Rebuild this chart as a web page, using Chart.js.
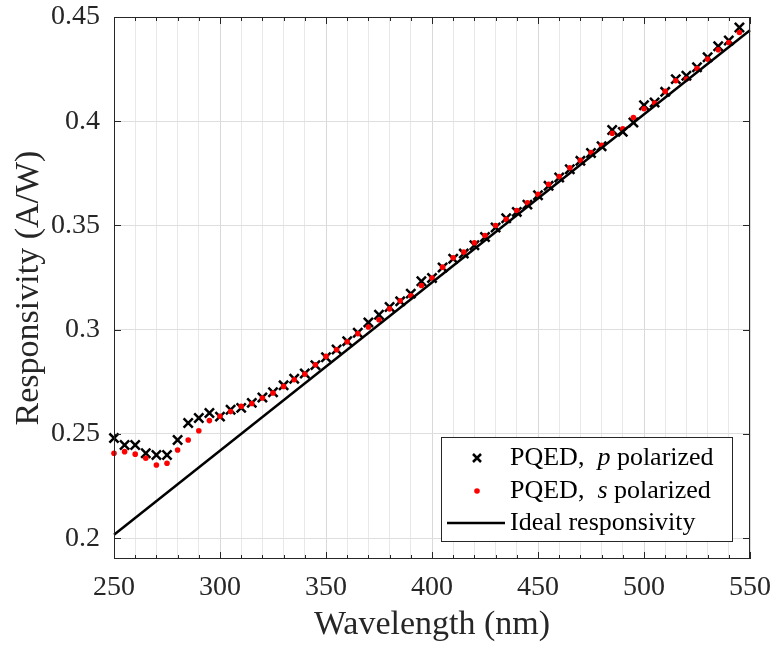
<!DOCTYPE html>
<html lang="en">
<head>
<meta charset="UTF-8">
<title>PQED responsivity</title>
<script src="https://cdn.jsdelivr.net/npm/chart.js"></script>
<style>
  html, body { margin: 0; padding: 0; background: #fff; }
  #chart { display: block; }
</style>
</head>
<body>
<canvas id="chart" width="772" height="645"></canvas>
<script>
  // values
  const wavelengths = [250, 255, 260, 265, 270, 275, 280, 285, 290, 295,
                       300, 305, 310, 315, 320, 325, 330, 335, 340, 345,
                       350, 355, 360, 365, 370, 375, 380, 385, 390, 395,
                       400, 405, 410, 415, 420, 425, 430, 435, 440, 445,
                       450, 455, 460, 465, 470, 475, 480, 485, 490, 495,
                       500, 505, 510, 515, 520, 525, 530, 535, 540, 545];
  const pPolarized = [0.2480, 0.2447, 0.2447, 0.2407, 0.2399, 0.2399, 0.2471, 0.2552, 0.2576, 0.2600,
                      0.2583, 0.2616, 0.2625, 0.2649, 0.2675, 0.2700, 0.2733, 0.2765, 0.2790, 0.2830,
                      0.2868, 0.2905, 0.2945, 0.2985, 0.3035, 0.3072, 0.3109, 0.3136, 0.3173, 0.3232,
                      0.3248, 0.3298, 0.3340, 0.3365, 0.3405, 0.3445, 0.3490, 0.3535, 0.3565, 0.3600,
                      0.3645, 0.3690, 0.3730, 0.3770, 0.3810, 0.3848, 0.3880, 0.3958, 0.3949, 0.3994,
                      0.4077, 0.4090, 0.4141, 0.4202, 0.4218, 0.4259, 0.4307, 0.4360, 0.4387, 0.4450];
  const sPolarized = [0.2407, 0.2415, 0.2403, 0.2383, 0.2351, 0.2359, 0.2423, 0.2471, 0.2515, 0.2564,
                      0.2585, 0.2607, 0.2633, 0.2646, 0.2672, 0.2696, 0.2728, 0.2760, 0.2787, 0.2832,
                      0.2872, 0.2904, 0.2942, 0.2981, 0.3013, 0.3048, 0.3100, 0.3139, 0.3163, 0.3212,
                      0.3248, 0.3300, 0.3345, 0.3372, 0.3417, 0.3452, 0.3500, 0.3529, 0.3572, 0.3609,
                      0.3649, 0.3698, 0.3735, 0.3777, 0.3812, 0.3850, 0.3885, 0.3942, 0.3964, 0.4018,
                      0.4060, 0.4087, 0.4143, 0.4194, 0.4202, 0.4253, 0.4298, 0.4343, 0.4378, 0.4426];
  const idealWavelengths = [250, 550];
  const idealResponsivity = [0.2016, 0.4436];

  const xTickLabels = [250, 300, 350, 400, 450, 500, 550];
  const xMinorTicks = [250, 260, 270, 280, 290, 300, 310, 320, 330, 340, 350,
                       360, 370, 380, 390, 400, 410, 420, 430, 440, 450,
                       460, 470, 480, 490, 500, 510, 520, 530, 540, 550];
  const yTickLabels = [0.2, 0.25, 0.3, 0.35, 0.4, 0.45];

  const serif = "'Liberation Serif', 'Times New Roman', serif";
  const axisColor = '#262626';

  const toPoints = (xs, ys) => xs.map((x, i) => ({ x: x, y: ys[i] }));

  // MATLAB style box with inward ticks
  const axesBox = {
    id: 'axesBox',
    afterDatasetsDraw(chart) {
      const { ctx, chartArea: a, scales: { x, y } } = chart;
      ctx.save();
      ctx.strokeStyle = axisColor;
      ctx.lineWidth = 1;
      ctx.strokeRect(Math.round(a.left) + 0.5, Math.round(a.top) + 0.5,
                     Math.round(a.right - a.left) - 1, Math.round(a.bottom - a.top) - 1);
      ctx.beginPath();
      xMinorTicks.forEach(v => {
        const px = Math.round(x.getPixelForValue(v)) + 0.5;
        const len = xTickLabels.includes(v) ? 7 : 4;
        ctx.moveTo(px, a.bottom); ctx.lineTo(px, a.bottom - len);
        ctx.moveTo(px, a.top); ctx.lineTo(px, a.top + len);
      });
      yTickLabels.forEach(v => {
        const py = Math.round(y.getPixelForValue(v)) + 0.5;
        ctx.moveTo(a.left, py); ctx.lineTo(a.left + 7, py);
        ctx.moveTo(a.right, py); ctx.lineTo(a.right - 7, py);
      });
      ctx.stroke();
      ctx.restore();
    }
  };

  const legendBox = {
    id: 'legendBox',
    afterDraw(chart) {
      const ctx = chart.ctx;
      const L = 441, T = 437, W = 291, H = 104;
      const textX = 510, markX = 477;
      const rows = [458, 491, 523];
      ctx.save();
      ctx.fillStyle = '#fff';
      ctx.fillRect(L, T, W, H);
      ctx.strokeStyle = axisColor;
      ctx.lineWidth = 1;
      ctx.strokeRect(L + 0.5, T + 0.5, W, H);

      // markers
      ctx.strokeStyle = '#000';
      ctx.lineWidth = 2.5;
      ctx.beginPath();
      ctx.moveTo(markX - 4, rows[0] - 4); ctx.lineTo(markX + 4, rows[0] + 4);
      ctx.moveTo(markX + 4, rows[0] - 4); ctx.lineTo(markX - 4, rows[0] + 4);
      ctx.stroke();
      ctx.fillStyle = '#ff0000';
      ctx.beginPath();
      ctx.arc(markX, rows[1], 2.8, 0, Math.PI * 2);
      ctx.fill();
      ctx.beginPath();
      ctx.moveTo(447, rows[2]); ctx.lineTo(505, rows[2]);
      ctx.stroke();

      // labels with italic polarization letters
      ctx.fillStyle = '#000';
      ctx.textBaseline = 'middle';
      ctx.textAlign = 'left';
      const parts = [
        [['PQED,  ', ''], ['p', 'italic '], [' polarized', '']],
        [['PQED,  ', ''], ['s', 'italic '], [' polarized', '']],
        [['Ideal responsivity', '']]
      ];
      parts.forEach((row, i) => {
        let cx = textX;
        row.forEach(([txt, style]) => {
          ctx.font = style + '26px ' + serif;
          ctx.fillText(txt, cx, rows[i]);
          cx += ctx.measureText(txt).width;
        });
      });
      ctx.restore();
    }
  };

  new Chart(document.getElementById('chart').getContext('2d'), {
    type: 'scatter',
    data: {
      datasets: [
        {
          label: 'Ideal responsivity',
          data: toPoints(idealWavelengths, idealResponsivity),
          showLine: true,
          borderColor: '#000',
          borderWidth: 2.5,
          pointRadius: 0,
          clip: false
        },
        {
          label: 'PQED, s polarized',
          data: toPoints(wavelengths, sPolarized),
          pointStyle: 'circle',
          pointRadius: 2.8,
          backgroundColor: '#ff0000',
          borderColor: '#ff0000',
          borderWidth: 0,
          clip: false
        },
        {
          label: 'PQED, p polarized',
          data: toPoints(wavelengths, pPolarized),
          pointStyle: 'crossRot',
          pointRadius: 6.5,
          borderColor: '#000',
          borderWidth: 2.5,
          clip: false
        }
      ]
    },
    options: {
      responsive: false,
      animation: false,
      events: [],
      layout: { padding: { top: 17, right: 22, bottom: 0, left: 0 } },
      plugins: { legend: { display: false }, tooltip: { enabled: false } },
      scales: {
        x: {
          type: 'linear',
          min: 250,
          max: 550,
          afterBuildTicks: s => { s.ticks = xMinorTicks.map(v => ({ value: v })); },
          afterFit: s => { s.height = 86; s.paddingLeft = 0; s.paddingRight = 0; },
          border: { display: false },
          grid: {
            drawTicks: false,
            color: c => (c.tick && xTickLabels.includes(c.tick.value)) ? '#d9d9d9' : '#e8e8e8',
            lineWidth: 1
          },
          ticks: {
            autoSkip: false,
            maxRotation: 0,
            padding: 12,
            color: axisColor,
            font: { family: serif, size: 28 },
            callback: v => xTickLabels.includes(v) ? String(v) : ''
          },
          title: {
            display: true,
            text: 'Wavelength (nm)',
            color: axisColor,
            padding: 0,
            font: { family: serif, size: 34, lineHeight: 1.2 }
          }
        },
        y: {
          type: 'linear',
          min: 0.19,
          max: 0.45,
          afterBuildTicks: s => { s.ticks = yTickLabels.map(v => ({ value: v })); },
          afterFit: s => { s.width = 114; s.paddingTop = 0; s.paddingBottom = 0; },
          border: { display: false },
          grid: { drawTicks: false, color: '#dedede', lineWidth: 1 },
          ticks: {
            padding: 14,
            color: axisColor,
            font: { family: serif, size: 28 },
            callback: v => String(v)
          },
          title: {
            display: true,
            text: 'Responsivity (A/W)',
            color: axisColor,
            padding: { top: 9, bottom: 0 },
            font: { family: serif, size: 34, lineHeight: 1.2 }
          }
        }
      }
    },
    plugins: [axesBox, legendBox]
  });
</script>
</body>
</html>
